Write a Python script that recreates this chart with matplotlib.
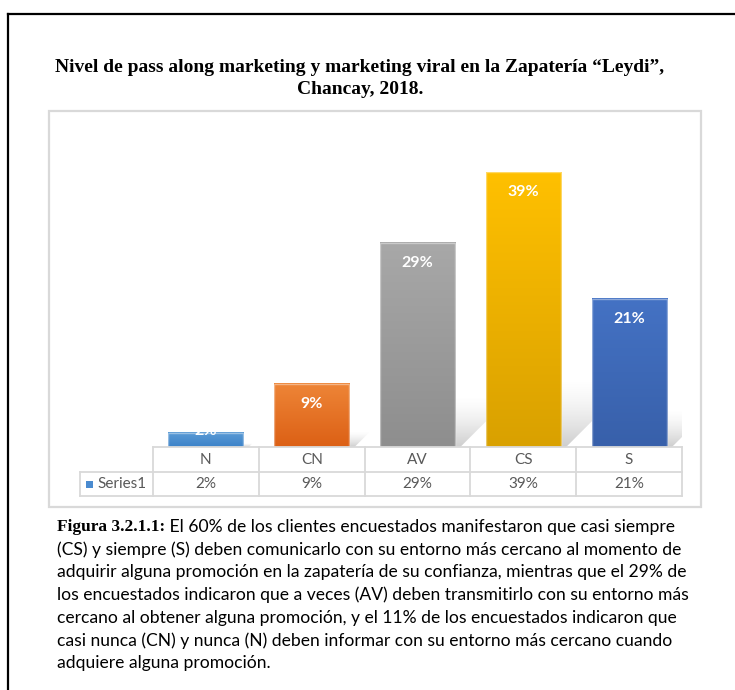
import numpy as np
import matplotlib
matplotlib.use("Agg")
import matplotlib.pyplot as plt
from matplotlib.patches import Rectangle, Polygon
from matplotlib import transforms

# ---------------- data ----------------
categories = ["N", "CN", "AV", "CS", "S"]
values = [2, 9, 29, 39, 21]
value_labels = ["2%", "9%", "29%", "39%", "21%"]
series_name = "Series1"
top_colors = ["#5B9BD5", "#EE8537", "#A8A8A8", "#FFC000", "#4472C4"]
bottom_colors = ["#3C82C9", "#DC6015", "#8E8E8E", "#D9A100", "#3860AA"]
title_lines = ["Nivel de pass along marketing y marketing viral en la Zapatería \u201cLeydi\u201d,",
               "Chancay, 2018."]
caption_bold = "Figura 3.2.1.1:"
caption_lines = [
    " El 60% de los clientes encuestados manifestaron que casi siempre",
    "(CS) y siempre (S) deben comunicarlo con su entorno más cercano al momento de",
    "adquirir alguna promoción en la zapatería de su confianza, mientras que el 29% de",
    "los encuestados indicaron que a veces (AV) deben transmitirlo con su entorno más",
    "cercano al obtener alguna promoción, y el 11% de los encuestados indicaron que",
    "casi nunca (CN) y nunca (N) deben informar con su entorno más cercano cuando",
    "adquiere alguna promoción.",
]

W, H = 735, 690
fig = plt.figure(figsize=(W / 100, H / 100), dpi=100)
fig.patch.set_facecolor("white")

def fx(px):
    return px / W

def fy(py):
    return 1 - py / H

SANS = "Lato"
SERIF = "Liberation Serif"
GRID = "#D9D9D9"
TXT = "#595959"

# outer black frame (left and top)
fig.add_artist(plt.Line2D([fx(8), fx(8)], [fy(14), 0], color="black", lw=1.6, transform=fig.transFigure))
fig.add_artist(plt.Line2D([fx(8), 1], [fy(14), fy(14)], color="black", lw=1.6, transform=fig.transFigure))

# chart box
fig.add_artist(Rectangle((fx(49), fy(507)), fx(701) - fx(49), fy(111) - fy(507),
                         transform=fig.transFigure, fill=False, edgecolor=GRID, lw=1.6))

# title
fig.text(fx(360), fy(68), title_lines[0], ha="center", va="center", fontsize=14,
         fontweight="bold", family=SERIF)
fig.text(fx(360), fy(90), title_lines[1], ha="center", va="center", fontsize=14,
         fontweight="bold", family=SERIF)

# plot axes
ax_left, ax_right, ax_bottom, ax_top = 153, 682, 447, 120
ax = fig.add_axes([fx(ax_left), fy(ax_bottom), fx(ax_right) - fx(ax_left), fy(ax_top) - fy(ax_bottom)])
ymax = (ax_bottom - ax_top) / 7.05
ax.set_xlim(-0.5, len(categories) - 0.5)
ax.set_ylim(0, ymax)
ax.axis("off")

ppx = (ax_right - ax_left) / len(categories)
ppy = (ax_bottom - ax_top) / ymax
bw = 0.71

def hex2rgb(h):
    h = h.lstrip("#")
    return np.array([int(h[i:i + 2], 16) / 255 for i in (0, 2, 4)])

# shadows (soft, leaning up-right)
for i, v in enumerate(values):
    sh = 0.25 * v
    dx = sh * ppy / ppx
    x0, x1 = i - bw / 2, i + bw / 2
    poly = Polygon([(x0, 0), (x1 + 0.05, 0), (x1 + 0.05 + dx, sh), (x0 + dx, sh)], closed=True,
                   facecolor="none", edgecolor="none")
    ax.add_patch(poly)
    n = 64
    alpha = (np.linspace(0.0, 1.0, n) ** 1.5 * 0.38)[:, None] * np.ones((1, 2))
    img = np.zeros((n, 2, 4))
    img[..., :3] = 0.5
    img[..., 3] = alpha
    im = ax.imshow(img, extent=(x0, x1 + 0.05 + dx, 0, sh), origin="upper",
                   aspect="auto", interpolation="bilinear", zorder=1)
    im.set_clip_path(poly)

# bars with vertical gradient
bars = ax.bar(range(len(categories)), values, width=bw, color="none", edgecolor="none", zorder=2)
for i, (b, v) in enumerate(zip(bars, values)):
    t = hex2rgb(top_colors[i])
    bo = hex2rgb(bottom_colors[i])
    n = 64
    frac = np.linspace(0, 1, n)[:, None]
    grad = t[None, :] * (1 - frac) + bo[None, :] * frac
    img = np.repeat(grad[:, None, :], 2, axis=1)
    ax.imshow(img, extent=(b.get_x(), b.get_x() + b.get_width(), 0, v), origin="upper",
              aspect="auto", interpolation="bilinear", zorder=2)
    ax.add_patch(Rectangle((b.get_x(), 0), b.get_width(), v, facecolor="none",
                           edgecolor=(1, 1, 1, 0.4), lw=1.0, zorder=3))

# data labels
for i, v in enumerate(values):
    off = -20 if v * ppy > 40 else 2
    tx = ax.annotate(value_labels[i], (i, v), xytext=(0, off), textcoords="offset pixels",
                     ha="center", va="center", color="white", fontsize=11.5,
                     fontweight="bold", family=SANS, zorder=4, annotation_clip=False)
    tx.set_clip_on(True)

ax.set_xlim(-0.5, len(categories) - 0.5)
ax.set_ylim(0, ymax)

# data table
blend = transforms.blended_transform_factory(ax.transData, fig.transFigure)
row_top, row_mid, row_bot = 447, 472, 496
leg_left = 80
nb = len(categories)
fig.add_artist(plt.Line2D([-0.5, nb - 0.5], [fy(row_top)] * 2, transform=blend, color=GRID, lw=1.3))
for yy in (row_mid, row_bot):
    fig.add_artist(plt.Line2D([fx(leg_left), fx(ax_right)], [fy(yy)] * 2,
                              transform=fig.transFigure, color=GRID, lw=1.3))
for k in range(nb + 1):
    fig.add_artist(plt.Line2D([k - 0.5] * 2, [fy(row_top), fy(row_bot)], transform=blend, color=GRID, lw=1.3))
fig.add_artist(plt.Line2D([fx(leg_left)] * 2, [fy(row_mid), fy(row_bot)], transform=fig.transFigure,
                          color=GRID, lw=1.3))
for i, c in enumerate(categories):
    fig.text(i, fy((row_top + row_mid) / 2), c, transform=blend, ha="center", va="center",
             fontsize=11, color=TXT, family=SANS)
    fig.text(i, fy((row_mid + row_bot) / 2), value_labels[i], transform=blend, ha="center",
             va="center", fontsize=11, color=TXT, family=SANS)
fig.add_artist(Rectangle((fx(86), fy(488)), fx(7), fy(481) - fy(488), transform=fig.transFigure,
                         facecolor="#4A8BD0", edgecolor="none"))
fig.text(fx(97), fy((row_mid + row_bot) / 2), series_name, ha="left", va="center",
         fontsize=11, color=TXT, family=SANS)

# caption
cap_y0 = 527
cap_dy = 22.7
cap_fs = 12.6
renderer = fig.canvas.get_renderer()
tb = fig.text(fx(57), fy(cap_y0), caption_bold, ha="left", va="center", fontsize=12.5,
              fontweight="bold", family=SERIF)
ext = tb.get_window_extent(renderer=renderer)
fig.text(ext.x1 / W, fy(cap_y0), caption_lines[0], ha="left", va="center", fontsize=cap_fs,
         family=SANS)
for k, line in enumerate(caption_lines[1:], start=1):
    fig.text(fx(57), fy(cap_y0 + k * cap_dy), line, ha="left", va="center", fontsize=cap_fs,
             family=SANS)

fig.savefig("out.png", dpi=100)
